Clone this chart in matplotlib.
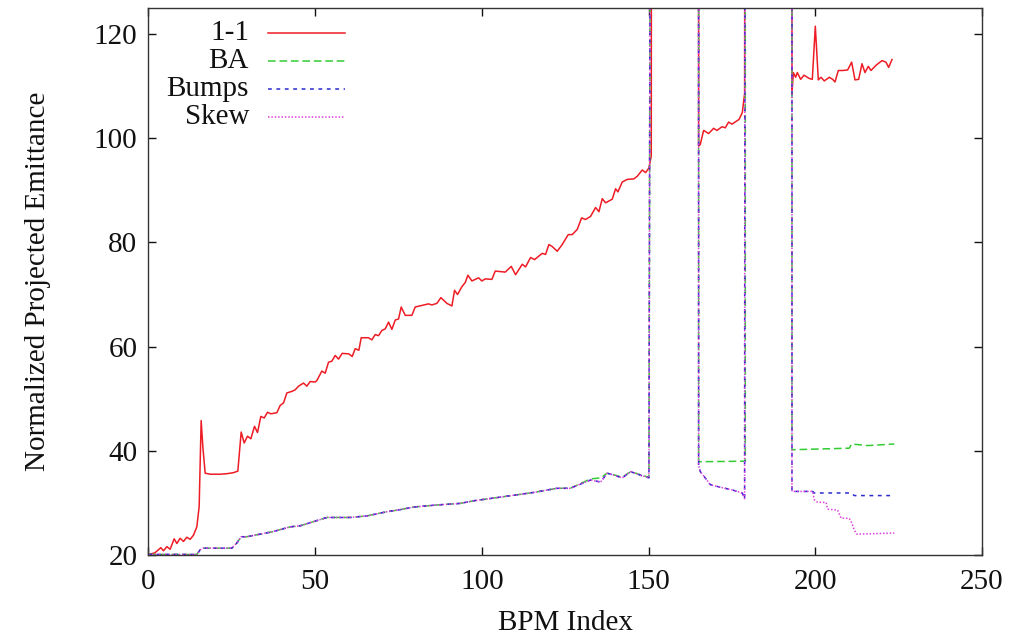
import matplotlib
matplotlib.use('Agg')
import matplotlib.pyplot as plt

plt.rcParams['font.family'] = ['Liberation Serif', 'DejaVu Serif']

OFF = 300.0  # values far above the plotted range (lines leave the top of the frame)

# ---------------- 1-1 ----------------
bpm_11 = [0, 1.9, 3.7, 4.5, 5.5, 6.5, 7.7, 8.5, 9.5, 10.5, 11.5, 12.5, 13.5, 14.5, 15.2, 15.8,
          16.3, 17, 18.5, 21.5, 23.5, 25.5, 26.8, 27.8, 28.7, 29.7, 30.7, 31.8, 32.7, 33.7, 34.7,
          35.7, 36.7, 38.5, 39.5, 40.5, 41.5, 43, 44, 45, 46.5, 47.5, 48.5, 50, 50.5, 52, 53, 54,
          55, 56, 57, 58.1, 60.1, 61.1, 62, 63.1, 63.8, 66, 67, 68, 69, 70, 71, 72, 73, 74, 75,
          75.8, 77, 79, 80, 82, 84, 85, 86.5, 87.7, 89.5, 91, 91.8, 92.7, 94, 95, 95.8, 97, 99,
          100, 101, 103, 104, 107, 108.8, 110.1, 112.1, 113.1, 114.6, 115.8, 118.1, 119.1, 120.1,
          121.1, 122.6, 124.1, 125.9, 127.1, 128.6, 129.9, 131.1, 132.6, 134.1, 135.1, 136.1,
          137.1, 139.1, 140.1, 140.8, 142.1, 143.6, 145.6, 146.6, 148.1, 149.1, 150.1, 150.8, 151,
          165, 165, 165.5, 166.5, 168, 169.5, 170.5, 172, 173, 174, 175, 177.1, 178.1, 178.8, 179,
          193, 193, 193.4, 194.1, 194.6, 195.6, 196.6, 198.1, 199.1, 200, 200.9, 201.7, 202.7,
          204.2, 205.2, 205.9, 206.9, 208.2, 209.7, 210.9, 211.9, 213, 214, 214.9, 215.9, 216.7,
          218.2, 220, 221.2, 222, 223]
emit_11 = [20.1, 20.4, 21.4, 20.8, 21.6, 21.1, 23.1, 22.2, 23.2, 22.6, 23.4, 23.0, 23.8, 25.4,
           29.3, 45.8, 40.8, 35.7, 35.5, 35.5, 35.6, 35.8, 36.1, 43.6, 41.5, 42.8, 42.3, 44.7,
           43.5, 46.6, 46.3, 47.4, 47.1, 47.3, 48.7, 49.2, 51.1, 51.4, 51.7, 52.4, 53.0, 52.4,
           53.3, 53.2, 53.5, 55.3, 54.9, 57.0, 57.2, 58.3, 57.6, 58.7, 58.6, 58.1, 59.6, 59.3,
           61.7, 61.7, 61.3, 62.3, 62.1, 63.1, 63.4, 64.7, 63.3, 65.1, 65.3, 67.6, 66.0, 66.0,
           67.6, 67.9, 68.2, 68.0, 68.3, 69.4, 68.3, 67.8, 70.8, 70.0, 71.5, 72.3, 73.7, 72.6,
           73.2, 72.6, 73.0, 72.9, 74.5, 74.3, 75.4, 73.8, 75.8, 75.3, 77.1, 76.7, 77.9, 77.7,
           79.6, 79.2, 78.3, 79.6, 81.5, 81.5, 82.5, 84.7, 84.4, 85.0, 86.7, 85.9, 88.4, 87.6,
           88.3, 90.3, 89.7, 91.6, 92.1, 92.2, 92.7, 93.9, 93.4, 94.3, 96.6, OFF,
           OFF, 98.5, 98.8, 101.5, 100.9, 101.9, 101.5, 102.2, 102.0, 103.1, 102.7, 103.6, 104.9,
           108.6, OFF,
           OFF, 108.5, 112.6, 111.7, 112.6, 111.3, 112.1, 111.5, 111.3, 121.5, 111.2, 111.7,
           111.0, 111.7, 111.3, 110.8, 113.0, 113.0, 113.1, 114.6, 111.2, 111.3, 114.3, 112.6,
           113.8, 113.0, 114.0, 114.9, 114.6, 113.6, 115.1]

# ---------------- BA ----------------
bpm_ba = [0, 14.5, 15.5, 16.3, 25, 26.5, 27.8, 29.5, 37.5, 42.5, 45.5, 49.5, 53.5, 60.5, 65.5,
          71.5, 75.5, 79.5, 86.5, 93.5, 97.5, 105.5, 115.5, 122.5, 126.5, 132.6, 135.6, 137.6,
          140.1, 142.1, 144.6, 147.6, 150.1, 151,
          165, 165, 179, 179,
          193, 193, 210.2, 210.9, 215.7, 223.7]
emit_ba = [20.1, 20.1, 21.0, 21.3, 21.3, 22.3, 23.5, 23.5, 24.5, 25.4, 25.6, 26.4, 27.2, 27.2,
           27.5, 28.3, 28.7, 29.2, 29.6, 29.9, 30.4, 31.1, 32.0, 32.8, 32.8, 34.6, 34.8, 35.7,
           35.3, 34.9, 36.0, 35.4, 34.9, OFF,
           OFF, 37.9, 38.0, OFF,
           OFF, 40.2, 40.5, 41.3, 41.0, 41.3]

# ---------------- Bumps ----------------
bpm_bumps = [0, 14.5, 15.5, 16.3, 25, 26.5, 27.8, 29.5, 37.5, 42.5, 45.5, 49.5, 53.5, 60.5,
             65.5, 71.5, 75.5, 79.5, 86.5, 93.5, 97.5, 105.5, 115.5, 122.5, 126.5, 132.6, 135.6,
             137.6, 140.1, 142.1, 144.6, 147.6, 150.1, 151,
             165, 165, 165.5, 166.5, 168.5, 171.5, 175, 177.1, 178.1, 178.8, 179,
             193, 193, 199.2, 199.7, 210.7, 211.7, 223.7]
emit_bumps = [20.1, 20.1, 21.0, 21.3, 21.3, 22.3, 23.5, 23.5, 24.5, 25.4, 25.6, 26.4, 27.2,
              27.2, 27.5, 28.3, 28.7, 29.2, 29.6, 29.9, 30.4, 31.1, 32.0, 32.8, 32.8, 34.4, 34.0,
              35.7, 35.2, 34.8, 36.0, 35.3, 34.8, OFF,
              OFF, 37.2, 36.0, 35.2, 33.5, 33.0, 32.5, 32.1, 31.9, 30.8, OFF,
              OFF, 32.2, 32.2, 31.9, 31.9, 31.4, 31.4]

# ---------------- Skew ----------------
bpm_skew = [0, 14.5, 15.5, 16.3, 25, 26.5, 27.8, 29.5, 37.5, 42.5, 45.5, 49.5, 53.5, 60.5,
            65.5, 71.5, 75.5, 79.5, 86.5, 93.5, 97.5, 105.5, 115.5, 122.5, 126.5, 132.6, 135.6,
            137.6, 140.1, 142.1, 144.6, 147.6, 150.1, 151,
            165, 165, 165.5, 166.5, 168.5, 171.5, 175, 177.1, 178.1, 178.8, 179,
            193, 193, 199.2, 199.7, 200.7, 203.2, 203.7, 206.7, 207.7, 210.2, 210.9, 211.7,
            212.4, 223.7]
emit_skew = [20.1, 20.1, 21.0, 21.3, 21.3, 22.3, 23.5, 23.5, 24.5, 25.4, 25.6, 26.4, 27.2,
             27.2, 27.5, 28.3, 28.7, 29.2, 29.6, 29.9, 30.4, 31.1, 32.0, 32.8, 32.8, 34.4, 34.0,
             35.7, 35.2, 34.8, 36.0, 35.3, 34.8, OFF,
             OFF, 37.2, 36.0, 35.2, 33.5, 33.0, 32.5, 32.1, 31.9, 30.8, OFF,
             OFF, 32.2, 32.2, 30.6, 30.1, 30.1, 28.8, 28.6, 27.1, 27.0, 26.2, 24.8,
             24.0, 24.2]

labels = ['1-1', 'BA', 'Bumps', 'Skew']
x_ticks = [0, 50, 100, 150, 200, 250]
y_ticks = [20, 40, 60, 80, 100, 120]

styles = [
    dict(color='#ee1c25', linestyle='-', linewidth=1.1),
    dict(color='#33cc33', linestyle=(0, (5, 2.5)), linewidth=1.1),
    dict(color='#2a2ad0', linestyle=(0, (2.5, 3)), linewidth=1.1),
    dict(color='#dd40dd', linestyle=(0, (1, 1.2)), linewidth=1.1),
]
series = [(bpm_11, emit_11), (bpm_ba, emit_ba), (bpm_bumps, emit_bumps), (bpm_skew, emit_skew)]

fig = plt.figure(figsize=(10.17, 6.39), dpi=100)
ax = fig.add_axes([0.146, 0.1315, 0.8196, 0.856])

for (xs, ys), st in zip(series, styles):
    ax.plot(xs, ys, **st)

ax.set_xlim(0, 250)
ax.set_ylim(20, 125)
ax.set_xticks(x_ticks)
ax.set_yticks(y_ticks)
ax.tick_params(direction='in', length=6, width=1, top=True, right=True,
               labelsize=21, pad=8, colors='#111111')
ax.tick_params(axis='x', pad=10)
for s in ax.spines.values():
    s.set_linewidth(1.0)
    s.set_color('#333333')

ax.set_xlabel('BPM Index', fontsize=21, labelpad=11, color='#111111')
ax.set_ylabel('Normalized Projected Emittance', fontsize=21, labelpad=31, color='#111111')

# gnuplot-style key: right-aligned labels followed by line samples
key_rows = [0.9548, 0.9031, 0.8514, 0.8002]
for lab, st, yr in zip(labels, styles, key_rows):
    ax.text(0.1206, yr, lab, transform=ax.transAxes, ha='right', va='center',
            fontsize=21, color='#111111')
    ax.plot([0.1434, 0.2357], [yr, yr], transform=ax.transAxes, **st)

fig.savefig('out.png', dpi=100)
